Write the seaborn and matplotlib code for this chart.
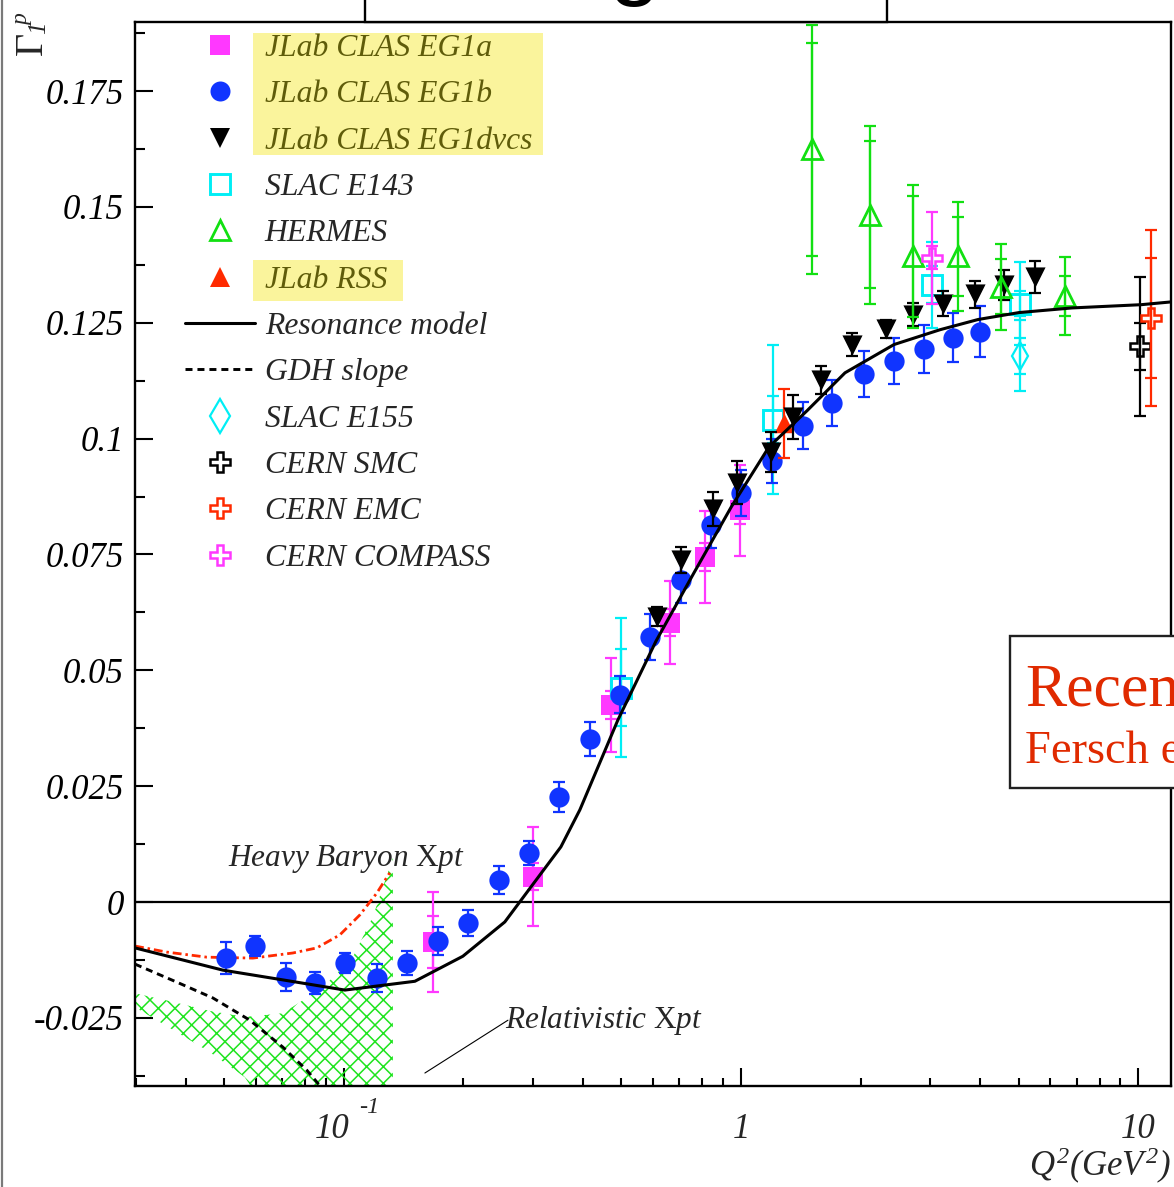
import numpy as np
import pandas as pd
import matplotlib
matplotlib.use("Agg")
import matplotlib.pyplot as plt
import matplotlib.transforms as mtransforms
from matplotlib.lines import Line2D
from matplotlib.patches import Rectangle
from matplotlib.ticker import (FixedLocator, FixedFormatter, LogLocator,
                               NullFormatter, MultipleLocator)
import seaborn as sns

# ---------------- Gamma_1^p (proton) versus Q^2 ----------------
eg1a_q2 = [0.168, 0.299, 0.471, 0.662, 0.811, 0.993]
eg1a_g = [-0.0086, 0.0055, 0.0425, 0.0603, 0.0744, 0.0845]
eg1a_stat = [0.0056, 0.0030, 0.0030, 0.0030, 0.0030, 0.0030]
eg1a_tot = [0.0108, 0.0106, 0.0101, 0.0090, 0.0099, 0.0099]

eg1b_q2 = [0.0504, 0.0597, 0.0715, 0.0845, 0.1006, 0.121, 0.144, 0.173,
           0.205, 0.246, 0.292, 0.348, 0.417, 0.496, 0.590, 0.706, 0.840,
           1.00, 1.197, 1.43, 1.70, 2.04, 2.43, 2.89, 3.42, 4.00]
eg1b_g = [-0.0121, -0.0095, -0.0162, -0.0175, -0.0132, -0.0164, -0.0132,
          -0.0084, -0.0045, 0.0048, 0.0106, 0.0227, 0.0352, 0.0447, 0.0572,
          0.0695, 0.0814, 0.0883, 0.0952, 0.1028, 0.1077, 0.1140, 0.1168,
          0.1194, 0.1218, 0.1231]
eg1b_err = [0.0034, 0.0022, 0.0030, 0.0024, 0.0022, 0.0030, 0.0026, 0.0030,
            0.0028, 0.0030, 0.0026, 0.0032, 0.0036, 0.0040, 0.0050, 0.0050,
            0.0050, 0.0050, 0.0048, 0.0050, 0.0050, 0.0050, 0.0050, 0.0052,
            0.0052, 0.0055]

eg1dvcs_q2 = [0.613, 0.706, 0.848, 0.976, 1.192, 1.351, 1.593, 1.904, 2.318,
              2.716, 3.226, 3.886, 4.583, 5.51]
eg1dvcs_g = [0.0616, 0.0738, 0.0848, 0.0905, 0.0972, 0.1047, 0.1127, 0.1203,
             0.1237, 0.1267, 0.1291, 0.1311, 0.1332, 0.1349]
eg1dvcs_err = [0.0020, 0.0029, 0.0037, 0.0046, 0.0043, 0.0047, 0.0030,
               0.0025, 0.0020, 0.0025, 0.0027, 0.0030, 0.0032, 0.0035]

e143_q2 = [0.4997, 1.205, 3.02, 5.04]
e143_g = [0.0462, 0.1041, 0.1332, 0.1291]
e143_stat = [0.0083, 0.0050, 0.0040, 0.0027]
e143_tot = [0.0150, 0.0160, 0.0093, 0.0090]

hermes_q2 = [1.508, 2.116, 2.716, 3.52, 4.52, 6.55]
hermes_g = [0.1624, 0.1483, 0.1393, 0.1393, 0.1328, 0.1307]
hermes_stat = [0.0230, 0.0159, 0.0130, 0.0085, 0.0060, 0.0043]
hermes_tot = [0.0268, 0.0192, 0.0155, 0.0117, 0.0093, 0.0084]

rss_q2 = [1.287]
rss_g = [0.1033]
rss_err = [0.0074]

e155_q2 = [5.04]
e155_g = [0.1179]
e155_stat = [0.0039]
e155_tot = [0.0076]

smc_q2 = [10.09]
smc_g = [0.1199]
smc_stat = [0.0050]
smc_tot = [0.0150]

emc_q2 = [10.8]
emc_g = [0.1260]
emc_stat = [0.0130]
emc_tot = [0.0190]

compass_q2 = [3.02]
compass_g = [0.1390]
compass_stat = [0.0025]
compass_tot = [0.0100]

# model curves
res_q2 = [0.0298, 0.0496, 0.0702, 0.1006, 0.151, 0.1994, 0.2543, 0.352, 0.393,
          0.490, 0.611, 0.761, 0.946, 1.176, 1.466, 1.828, 2.429, 3.172,
          3.954, 5.014, 6.821, 10.18, 12.11]
res_g = [-0.0099, -0.0147, -0.0168, -0.0190, -0.0171, -0.0117, -0.0043,
         0.0119, 0.0199, 0.0393, 0.0563, 0.0710, 0.0853, 0.0982, 0.1060,
         0.1142, 0.1203, 0.1235, 0.1257, 0.1272, 0.1282, 0.1289, 0.1295]

gdh_q2 = [0.0298, 0.0380, 0.0468, 0.0580, 0.0702, 0.0807, 0.0860, 0.0900]
gdh_g = [-0.0134, -0.0173, -0.0207, -0.0255, -0.0313, -0.0363, -0.0391, -0.0410]

hb_q2 = [0.0298, 0.0358, 0.0452, 0.0590, 0.0744, 0.0855, 0.0977, 0.1097,
         0.1210, 0.1305]
hb_g = [-0.0095, -0.0108, -0.0119, -0.0121, -0.0110, -0.0099, -0.0071,
        -0.0028, 0.0019, 0.0063]

band_q2 = [0.0298, 0.0365, 0.0460, 0.0563, 0.0702, 0.0886, 0.1054, 0.1183, 0.1329]
band_hi = [-0.0197, -0.0214, -0.0235, -0.0248, -0.0240, -0.0184, -0.0119,
           -0.0032, 0.0095]
band_lo = [-0.0227, -0.0272, -0.0324, -0.0378, -0.0500, -0.0500, -0.0500,
           -0.0500, -0.0500]

y_ticks = [-0.025, 0.0, 0.025, 0.05, 0.075, 0.1, 0.125, 0.15, 0.175]
y_tick_labels = ["-0.025", "0", "0.025", "0.05", "0.075", "0.1", "0.125",
                 "0.15", "0.175"]
x_ticks = [0.1, 1.0, 10.0]
x_tick_base = ["10", "1", "10"]
x_tick_exp = ["-1", "", ""]

legend_labels = ["JLab CLAS EG1a", "JLab CLAS EG1b", "JLab CLAS EG1dvcs",
                 "SLAC E143", "HERMES", "JLab RSS", "Resonance model",
                 "GDH slope", "SLAC E155", "CERN SMC", "CERN EMC",
                 "CERN COMPASS"]

# ---------------- style ----------------
MAGENTA = "#ff38ff"
BLUE = "#1034ff"
CYAN = "#00eef5"
GREEN = "#12e012"
RED = "#ff2a00"
HATCH_GREEN = "#1ee41e"
OLIVE = "#5f5c0a"
HILITE = "#faf49c"
BOX_RED = "#e02a00"

sns.set_theme(style="white")
plt.rcParams.update({
    "font.family": ["Liberation Serif", "DejaVu Serif"],
    "font.style": "italic",
    "mathtext.fontset": "custom",
    "mathtext.rm": "Liberation Serif:italic",
    "mathtext.it": "Liberation Serif:italic",
    "mathtext.sf": "Liberation Serif:style=normal",
    "mathtext.default": "it",
    "axes.unicode_minus": False,
    "hatch.linewidth": 1.1,
    "hatch.color": HATCH_GREEN,
})

W, H, DPI = 1174, 1187, 100
TICK_FS = 25


def fx(px):
    return px / W


def fy(py):
    return 1 - py / H


fig = plt.figure(figsize=(W / DPI, H / DPI), dpi=DPI)
fig.patch.set_facecolor("white")
ax = fig.add_axes([fx(135), fy(1086), fx(1171) - fx(135), fy(22) - fy(1086)])
ax.set_facecolor("white")
ax.set_xscale("log")

# chiral perturbation theory band (relativistic)
ax.fill_between(band_q2, band_lo, band_hi, facecolor="none",
                edgecolor=HATCH_GREEN, hatch="xx", linewidth=0, zorder=1.5)

ax.axhline(0.0, color="black", lw=1.6, zorder=2)

# model curves
sns.lineplot(x=res_q2, y=res_g, ax=ax, color="black", linewidth=2.2,
             sort=False, estimator=None, zorder=6)
sns.lineplot(x=gdh_q2, y=gdh_g, ax=ax, color="black", linewidth=2.1,
             linestyle=(0, (2.4, 1.7)), sort=False, estimator=None, zorder=2.5)
sns.lineplot(x=hb_q2, y=hb_g, ax=ax, color=RED, linewidth=2.0,
             linestyle=(0, (3.2, 1.4, 0.9, 1.4)), sort=False, estimator=None,
             zorder=2.5)


def draw_series(q2, g, err_outer, err_inner, marker, color, ms, filled, z,
                mew=2.0):
    kw = dict(fmt="none", ecolor=color, elinewidth=1.6, capsize=4.5,
              capthick=1.6, zorder=z)
    ax.errorbar(q2, g, yerr=err_outer, **kw)
    if err_inner is not None:
        ax.errorbar(q2, g, yerr=err_inner, **kw)
    if filled:
        sns.scatterplot(x=q2, y=g, marker=marker, s=ms ** 2, color=color,
                        linewidth=0, ax=ax, zorder=z + 0.05, legend=False)
    else:
        ax.plot(q2, g, ls="none", marker=marker, ms=ms, mfc="none", mec=color,
                mew=mew, zorder=z + 0.05)


draw_series(eg1a_q2, eg1a_g, eg1a_tot, eg1a_stat, "s", MAGENTA, 14.5, True, 3.0)
draw_series(e143_q2, e143_g, e143_tot, e143_stat, "s", CYAN, 14.0, False, 3.2, mew=2.1)
draw_series(eg1b_q2, eg1b_g, eg1b_err, None, "o", BLUE, 14.6, True, 3.4)
draw_series(rss_q2, rss_g, rss_err, None, "^", RED, 14.0, True, 3.6)
draw_series(eg1dvcs_q2, eg1dvcs_g, eg1dvcs_err, None, "v", "black", 14.5, True, 3.8)
draw_series(e155_q2, e155_g, e155_tot, e155_stat, "d", CYAN, 14.4, False, 4.0, mew=1.6)
draw_series(hermes_q2, hermes_g, hermes_tot, hermes_stat, "^", GREEN, 14.5, False, 4.2, mew=2.0)
draw_series(compass_q2, compass_g, compass_tot, compass_stat, "P", MAGENTA, 14.4, False, 4.4, mew=1.8)
draw_series(smc_q2, smc_g, smc_tot, smc_stat, "P", "black", 14.4, False, 4.5, mew=1.8)
draw_series(emc_q2, emc_g, emc_tot, emc_stat, "P", RED, 14.4, False, 4.6, mew=1.8)

# ---------------- axes, ticks ----------------
ax.set_xlim(0.0298, 12.1)
ax.set_ylim(-0.0397, 0.1899)
ax.yaxis.set_major_locator(FixedLocator(y_ticks))
ax.yaxis.set_major_formatter(FixedFormatter(y_tick_labels))
ax.yaxis.set_minor_locator(MultipleLocator(0.0125))
ax.xaxis.set_major_locator(FixedLocator(x_ticks))
ax.xaxis.set_major_formatter(NullFormatter())
ax.xaxis.set_minor_locator(LogLocator(base=10, subs=np.arange(2, 10)))
ax.xaxis.set_minor_formatter(NullFormatter())

ax.tick_params(axis="both", which="both", direction="in", width=1.5,
               color="black", top=False, right=False, bottom=True, left=True)
ax.tick_params(axis="y", which="major", length=13, pad=8, labelsize=TICK_FS,
               labelcolor="black")
ax.tick_params(axis="y", which="minor", length=7)
ax.tick_params(axis="x", which="major", length=13, labelbottom=False)
ax.tick_params(axis="x", which="minor", length=6)
for lab in ax.get_yticklabels():
    lab.set_fontstyle("italic")
for sp in ax.spines.values():
    sp.set_linewidth(1.7)
    sp.set_color("black")
ax.set_xlabel("")
ax.set_ylabel("")

# x tick labels written at a common baseline
xtrans = mtransforms.blended_transform_factory(ax.transData, ax.transAxes)
base_y = (1086 - 1138) / (1086 - 22)
for val, base, exp in zip(x_ticks, x_tick_base, x_tick_exp):
    if exp:
        t_base = mtransforms.offset_copy(xtrans, fig=fig, x=-12, y=0, units="dots")
        ax.text(val, base_y, base, transform=t_base, ha="center", va="baseline",
                fontsize=TICK_FS, clip_on=False)
        t_exp = mtransforms.offset_copy(xtrans, fig=fig, x=15, y=25, units="dots")
        ax.text(val, base_y, exp, transform=t_exp, ha="left", va="baseline",
                fontsize=17.5, clip_on=False)
    else:
        ax.text(val, base_y, base, transform=xtrans, ha="center", va="baseline",
                fontsize=TICK_FS, clip_on=False)

fig.text(fx(1171), fy(1176), r"$Q^{2}(GeV^{2})$", ha="right", va="baseline",
         fontsize=25)

# y-axis title: upright Gamma with italic sub/superscript, reading upwards
fig.text(fx(41.5), fy(55), "Γ", rotation=90, rotation_mode="anchor",
         ha="left", va="baseline", fontsize=29, style="normal")
fig.text(fx(45), fy(33.5), "1", rotation=90, rotation_mode="anchor",
         ha="left", va="baseline", fontsize=18)
fig.text(fx(28.5), fy(25.5), "p", rotation=90, rotation_mode="anchor",
         ha="left", va="baseline", fontsize=17)

# annotations
ax.text(0.051, 0.0078, r"$Heavy\ Baryon\ \mathsf{X}pt$", fontsize=22.5,
        va="baseline", ha="left", zorder=7)
ax.text(0.254, -0.0272, r"$Relativistic\ \mathsf{X}pt$", fontsize=22.5,
        va="baseline", ha="left", zorder=7)
ax.plot([0.160, 0.259], [-0.0369, -0.0255], color="black", lw=0.8, zorder=7)

# ---------------- legend ----------------
handles = [
    Line2D([], [], ls="none", marker="s", ms=14.5, mfc=MAGENTA, mec=MAGENTA, mew=0),
    Line2D([], [], ls="none", marker="o", ms=14.4, mfc=BLUE, mec=BLUE, mew=0),
    Line2D([], [], ls="none", marker="v", ms=14.5, mfc="black", mec="black", mew=0),
    Line2D([], [], ls="none", marker="s", ms=14.0, mfc="none", mec=CYAN, mew=2.1),
    Line2D([], [], ls="none", marker="^", ms=14.5, mfc="none", mec=GREEN, mew=2.0),
    Line2D([], [], ls="none", marker="^", ms=14.5, mfc=RED, mec=RED, mew=0),
    Line2D([], [], color="black", lw=2.2),
    Line2D([], [], color="black", lw=2.1, ls=(0, (2.4, 1.7))),
    Line2D([], [], ls="none", marker="d", ms=17, mfc="none", mec=CYAN, mew=1.6),
    Line2D([], [], ls="none", marker="P", ms=14.4, mfc="none", mec="black", mew=1.8),
    Line2D([], [], ls="none", marker="P", ms=14.4, mfc="none", mec=RED, mew=1.8),
    Line2D([], [], ls="none", marker="P", ms=14.4, mfc="none", mec=MAGENTA, mew=1.8),
]
leg = ax.legend(handles, legend_labels, loc="upper left",
                bbox_to_anchor=(fx(185), fy(34)), bbox_transform=fig.transFigure,
                frameon=False, borderpad=0, borderaxespad=0, handlelength=2.2,
                handletextpad=0.32, labelspacing=0.542,
                prop=dict(family="Liberation Serif", style="italic", size=22.8))
leg.set_zorder(10)
for i in (0, 1, 2, 5):
    leg.get_texts()[i].set_color(OLIVE)

for (x0, y0, x1, y1) in [(253, 33, 543, 155), (253, 260, 403, 301)]:
    ax.add_patch(Rectangle((fx(x0), fy(y1)), fx(x1) - fx(x0), fy(y0) - fy(y1),
                           transform=fig.transFigure, facecolor=HILITE,
                           edgecolor="none", zorder=8, clip_on=False))

# ---------------- slide furniture around the plot ----------------
fig.add_artist(Rectangle((fx(365), fy(22)), fx(887) - fx(365), fy(-20) - fy(22),
                         transform=fig.transFigure, facecolor="white",
                         edgecolor="black", lw=1.7, zorder=3))
fig.text(fx(634), fy(-12), "g", ha="center", va="baseline", fontsize=67,
         family="Liberation Sans", style="normal", color="black", zorder=4)

fig.add_artist(Rectangle((fx(1010), fy(788)), fx(1260) - fx(1010), fy(636) - fy(788),
                         transform=fig.transFigure, facecolor="white",
                         edgecolor="#202020", lw=1.7, zorder=3))
fig.text(fx(1025), fy(705), "Recent", ha="left", va="baseline", fontsize=44.5,
         family="Liberation Serif", style="normal", color=BOX_RED, zorder=4)
fig.text(fx(1025), fy(763), "Fersch et al.", ha="left", va="baseline",
         fontsize=33.5, family="Liberation Serif", style="normal",
         color=BOX_RED, zorder=4)

fig.add_artist(Line2D([fx(1.5), fx(1.5)], [0, 1], transform=fig.transFigure,
                      color="#7a7a7a", lw=1.6, zorder=3))

fig.savefig("out.png", dpi=DPI)
